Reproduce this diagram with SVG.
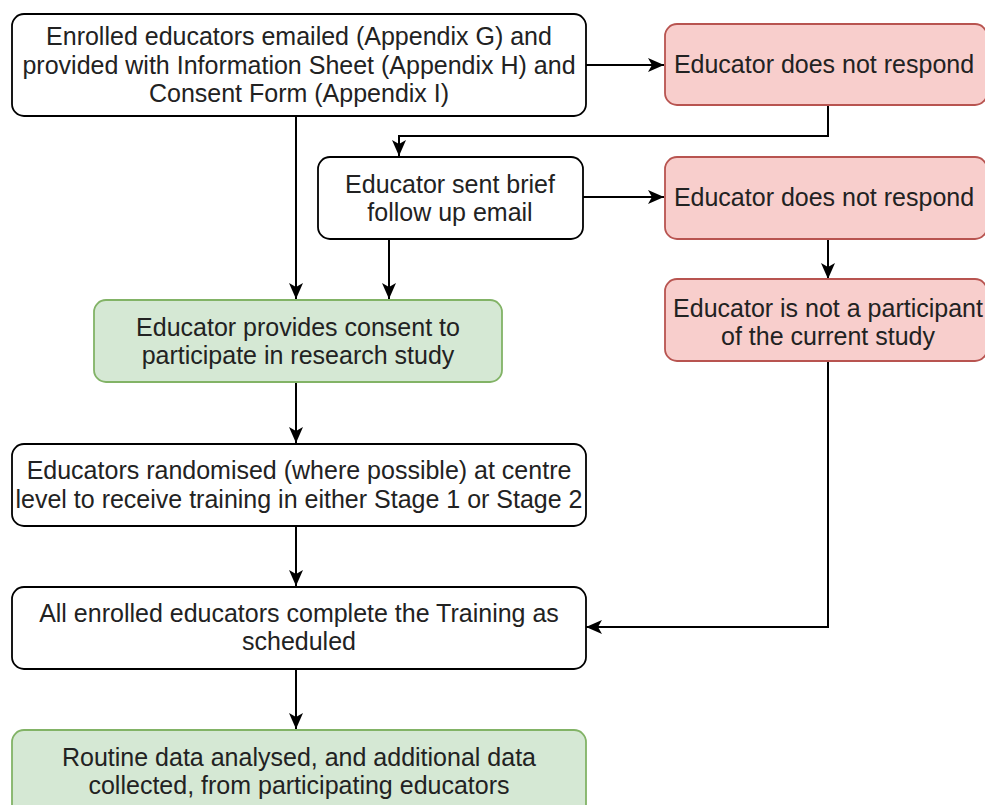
<svg xmlns="http://www.w3.org/2000/svg" width="985" height="805" viewBox="0 0 985 805">
<style>
.w{fill:#ffffff;stroke:#000000;stroke-width:1.8}
.r{fill:#f8cecc;stroke:#b85450;stroke-width:1.8}
.g{fill:#d5e8d4;stroke:#82b366;stroke-width:1.8}
text{font-family:"Liberation Sans",Arial,sans-serif;font-size:25px;fill:#222222;text-anchor:middle}
.c{fill:none;stroke:#000000;stroke-width:2}
</style>
<defs>
<marker id="ah" viewBox="0 0 16 14" refX="16" refY="7" markerWidth="16" markerHeight="14" markerUnits="userSpaceOnUse" orient="auto">
<path d="M0,0 L16,7 L0,14 L4,7 Z" fill="#000000"/>
</marker>
</defs>
<rect width="985" height="805" fill="#ffffff"/>
<g id="connectors">
<path class="c" d="M586,65 L664,65" marker-end="url(#ah)"/>
<path class="c" d="M828,105 L828,136 L399,136 L399,156" marker-end="url(#ah)"/>
<path class="c" d="M583,197 L664,197" marker-end="url(#ah)"/>
<path class="c" d="M828,239 L828,279" marker-end="url(#ah)"/>
<path class="c" d="M296,116 L296,299" marker-end="url(#ah)"/>
<path class="c" d="M389,239 L389,299" marker-end="url(#ah)"/>
<path class="c" d="M296,382 L296,443" marker-end="url(#ah)"/>
<path class="c" d="M296,526 L296,586" marker-end="url(#ah)"/>
<path class="c" d="M828,361 L828,627 L586,627" marker-end="url(#ah)"/>
<path class="c" d="M296,669 L296,729" marker-end="url(#ah)"/>
</g>
<g id="n1">
<rect class="w" x="12" y="14" width="574" height="102" rx="12"/>
<text x="299" y="45">Enrolled educators emailed (Appendix G) and</text>
<text x="299" y="74">provided with Information Sheet (Appendix H) and</text>
<text x="299" y="102">Consent Form (Appendix I)</text>
</g>
<g id="n2">
<rect class="r" x="665" y="24" width="322" height="81" rx="12"/>
<text x="824" y="73">Educator does not respond</text>
</g>
<g id="n3">
<rect class="w" x="318" y="157" width="265" height="82" rx="12"/>
<text x="450" y="193">Educator sent brief</text>
<text x="450" y="221">follow up email</text>
</g>
<g id="n4">
<rect class="r" x="665" y="157" width="322" height="82" rx="12"/>
<text x="824" y="206">Educator does not respond</text>
</g>
<g id="n5">
<rect class="r" x="665" y="279" width="322" height="82" rx="12"/>
<text x="828" y="317">Educator is not a participant</text>
<text x="828" y="345">of the current study</text>
</g>
<g id="n6">
<rect class="g" x="94" y="300" width="408" height="82" rx="12"/>
<text x="298" y="336">Educator provides consent to</text>
<text x="298" y="364">participate in research study</text>
</g>
<g id="n7">
<rect class="w" x="12" y="444" width="574" height="82" rx="12"/>
<text x="299" y="479">Educators randomised (where possible) at centre</text>
<text x="299" y="508">level to receive training in either Stage 1 or Stage 2</text>
</g>
<g id="n8">
<rect class="w" x="12" y="587" width="574" height="82" rx="12"/>
<text x="299" y="622">All enrolled educators complete the Training as</text>
<text x="299" y="650">scheduled</text>
</g>
<g id="n9">
<rect class="g" x="12" y="730" width="574" height="90" rx="12"/>
<text x="299" y="766">Routine data analysed, and additional data</text>
<text x="299" y="794">collected, from participating educators</text>
</g>
</svg>
